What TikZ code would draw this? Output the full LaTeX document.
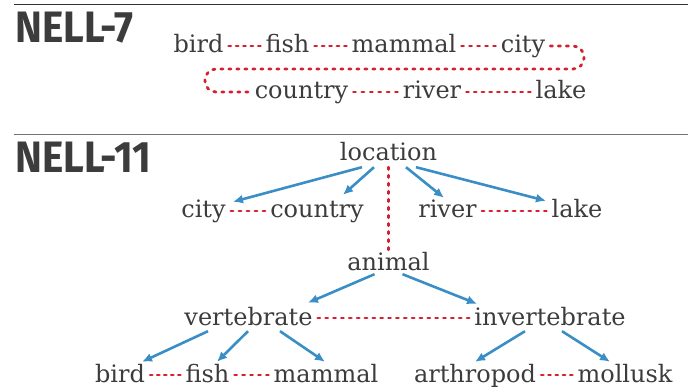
\documentclass[tikz,border=0pt]{standalone}
\usepackage{fontspec}
\setmainfont{DejaVu Serif}
\newfontfamily\headfont{Fira Sans}[FakeStretch=0.92]
\usepackage{xcolor}
\usetikzlibrary{arrows.meta,calc}
\definecolor{txtgray}{HTML}{3C3C3C}
\definecolor{relred}{HTML}{D51F2E}
\definecolor{isablue}{HTML}{3A8EC6}
% red dotted link, gaps stretched so both ends get a dash
\newcommand{\linkrel}[2]{\draw[rel] let \p1=($(#2)-(#1)$), \n1={veclen(\x1,\y1)-2.2}, \n2={\n1/round(\n1/8)-2.2} in [dash pattern=on 2.2pt off \n2] (#1) -- (#2);}

\begin{document}
\begin{tikzpicture}[x=1pt,y=-1pt,
	word/.style={text=txtgray,font=\fontsize{24}{24}\selectfont,inner xsep=5pt,inner ysep=6pt,text height=14pt,text depth=0pt},
	head/.style={text=txtgray,font=\headfont\bfseries\fontsize{44}{44}\selectfont,anchor=base west,inner sep=0pt},
	rel/.style={relred,line width=2.8pt,line cap=round,dash pattern=on 2.2pt off 5.8pt},
	isa/.style={isablue,line width=2.6pt,-{Latex[length=10pt,width=9pt]}}]
	\useasboundingbox (0,0) rectangle (688,390);
	\draw[line width=1.4pt,black!80] (14,4.5) -- (688,4.5);
	\draw[line width=1.4pt,black!55] (14,134.5) -- (688,134.5);
	\node[head] (nell7) at (15,43) {NELL-7};
	\node[head] (nell11) at (15,173) {NELL-11};

	\node[word] (bird7) at (198.5,46) {bird};
	\node[word] (fish7) at (287.5,46) {fish};
	\node[word] (mammal7) at (404,46) {mammal};
	\node[word] (city7) at (523,46) {city};
	\node[word] (country7) at (301.5,92) {country};
	\node[word] (river7) at (432,92) {river};
	\node[word] (lake7) at (561,92) {lake};
	\coordinate (bendR) at (584,69);
	\coordinate (bendL) at (205,69);
	\linkrel{bird7.east}{fish7.west}
	\linkrel{fish7.east}{mammal7.west}
	\linkrel{mammal7.east}{city7.west}
	\draw[rel,rounded corners=11pt] (city7.east) -- (city7.east -| bendR) -- (bendR) -- (bendL) -- (bendL |- country7.west) -- (country7.west);
	\linkrel{country7.east}{river7.west}
	\linkrel{river7.east}{lake7.west}

	\node[word] (loc) at (388.5,154) {location};
	\node[word] (city) at (203.5,211) {city};
	\node[word] (country) at (317,211) {country};
	\node[word] (river) at (447.5,211) {river};
	\node[word] (lake) at (577,211) {lake};
	\node[word] (animal) at (388.5,263) {animal};
	\node[word] (vert) at (248.5,318) {vertebrate};
	\node[word] (invert) at (550,318) {invertebrate};
	\node[word] (bird) at (120,375) {bird};
	\node[word] (fish) at (207.5,375) {fish};
	\node[word] (mammal) at (326,375) {mammal};
	\node[word] (arthro) at (475,375) {arthropod};
	\node[word] (mollusk) at (625,375) {mollusk};

	\draw[isa] ([xshift=-26.5pt]loc.south) -- ([xshift=29.5pt,yshift=-4pt]city.north);
	\draw[isa] ([xshift=-14.5pt]loc.south) -- ([xshift=26pt,yshift=3pt]country.north);
	\draw[isa] ([xshift=17.5pt]loc.south) -- ([xshift=-3.5pt]river.north);
	\draw[isa] ([xshift=27.5pt]loc.south) -- ([xshift=-31pt,yshift=-3pt]lake.north);
	\linkrel{loc.south}{animal.north}
	\linkrel{city.east}{country.west}
	\linkrel{river.east}{lake.west}

	\draw[isa] ([xshift=-14pt,yshift=2pt]animal.south) -- ([xshift=59.5pt,yshift=2pt]vert.north);
	\draw[isa] ([xshift=14pt,yshift=2pt]animal.south) -- ([xshift=-73pt,yshift=1pt]invert.north);
	\linkrel{vert.east}{invert.west}

	\draw[isa] ([xshift=-40.5pt]vert.south) -- ([xshift=22pt]bird.north);
	\draw[isa] ([xshift=-0.5pt]vert.south) -- ([xshift=9.5pt]fish.north);
	\draw[isa] ([xshift=31.5pt]vert.south) -- ([xshift=-1pt]mammal.north);
	\draw[isa] ([xshift=-25pt]invert.south) -- (arthro.north);
	\draw[isa] ([xshift=12pt]invert.south) -- ([xshift=-15pt]mollusk.north);
	\linkrel{bird.east}{fish.west}
	\linkrel{fish.east}{mammal.west}
	\linkrel{arthro.east}{mollusk.west}
\end{tikzpicture}
\end{document}
